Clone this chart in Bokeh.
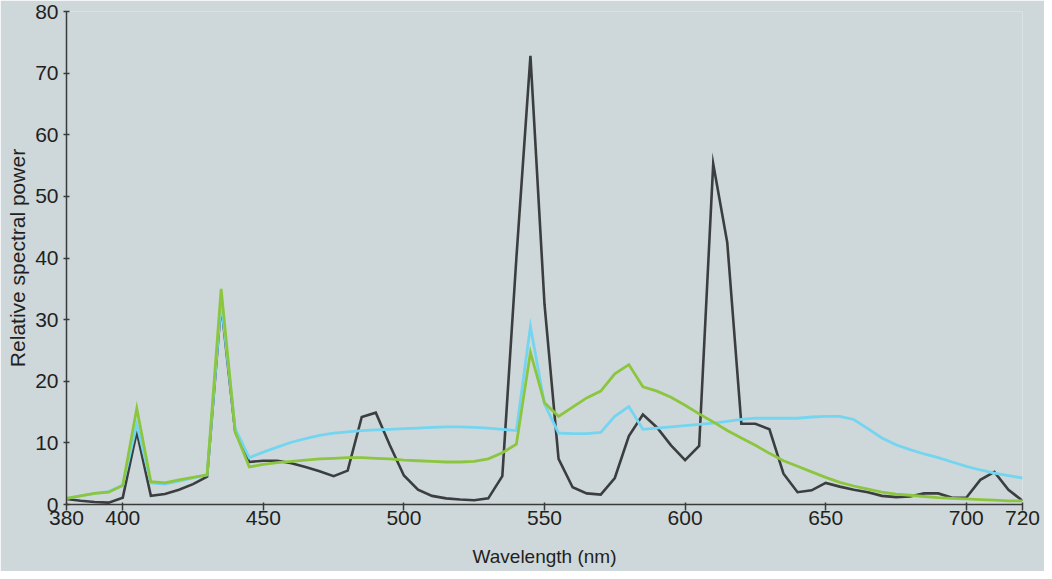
from bokeh.plotting import figure
from bokeh.models import FixedTicker, Range1d
from bokeh.embed import file_html
from bokeh.resources import INLINE

wavelength = [380, 385, 390, 395, 400, 405, 410, 415, 420, 425, 430, 435, 440, 445,
              450, 455, 460, 465, 470, 475, 480, 485, 490, 495, 500, 505, 510, 515,
              520, 525, 530, 535, 540, 545, 550, 555, 560, 565, 570, 575, 580, 585,
              590, 595, 600, 605, 610, 615, 620, 625, 630, 635, 640, 645, 650, 655,
              660, 665, 670, 675, 680, 685, 690, 695, 700, 705, 710, 715, 720]

dark_series = [0.9, 0.6, 0.4, 0.3, 1.1, 11.8, 1.4, 1.7, 2.4, 3.3, 4.5, 32.5, 11.8, 6.9,
               7.1, 7.1, 6.7, 6.1, 5.4, 4.6, 5.5, 14.2, 14.9, 9.6, 4.7, 2.4, 1.4, 1.0,
               0.8, 0.7, 1.0, 4.6, 40.0, 72.8, 32.5, 7.4, 2.8, 1.8, 1.6, 4.3, 11.1, 14.6,
               12.5, 9.6, 7.2, 9.5, 55.3, 42.5, 13.1, 13.1, 12.2, 5.0, 2.0, 2.3, 3.5, 2.9,
               2.4, 2.0, 1.4, 1.2, 1.3, 1.8, 1.8, 1.1, 1.1, 4.0, 5.3, 2.4, 0.6]

blue_series = [1.0, 1.4, 1.8, 2.1, 3.1, 13.0, 3.5, 3.3, 3.8, 4.3, 4.8, 33.0, 12.3, 7.6,
               8.5, 9.3, 10.1, 10.7, 11.2, 11.6, 11.8, 12.0, 12.1, 12.2, 12.3, 12.4, 12.5, 12.6,
               12.6, 12.5, 12.4, 12.2, 12.0, 28.9, 16.3, 11.6, 11.5, 11.5, 11.7, 14.3, 15.9, 12.2,
               12.4, 12.6, 12.8, 13.0, 13.2, 13.5, 13.8, 14.0, 14.0, 14.0, 14.0, 14.2, 14.3, 14.3,
               13.8, 12.3, 10.8, 9.7, 8.9, 8.2, 7.6, 6.9, 6.2, 5.6, 5.1, 4.7, 4.3]

green_series = [1.0, 1.4, 1.8, 2.0, 3.1, 15.6, 3.7, 3.5, 4.0, 4.4, 4.8, 35.0, 11.8, 6.1,
                6.5, 6.8, 7.0, 7.2, 7.4, 7.5, 7.6, 7.6, 7.5, 7.4, 7.2, 7.1, 7.0, 6.9,
                6.9, 7.0, 7.4, 8.4, 9.8, 24.7, 16.5, 14.3, 15.8, 17.3, 18.4, 21.2, 22.7, 19.1,
                18.4, 17.4, 16.1, 14.7, 13.4, 12.0, 10.8, 9.6, 8.3, 7.1, 6.2, 5.3, 4.4, 3.6,
                3.0, 2.5, 2.0, 1.7, 1.5, 1.3, 1.1, 1.0, 0.9, 0.8, 0.7, 0.6, 0.6]

x_ticks = [380, 400, 450, 500, 550, 600, 650, 700, 720]
y_ticks = [0, 10, 20, 30, 40, 50, 60, 70, 80]

BG = "#ced8da"
TEXT = "#231f20"
FONT = "Liberation Sans"

p = figure(width=1044, height=571, output_backend="svg", toolbar_location=None,
           x_range=Range1d(380, 720), y_range=Range1d(0, 80),
           min_border_left=66, min_border_right=22, min_border_top=11, min_border_bottom=67)
p.background_fill_color = BG
p.border_fill_color = BG
p.outline_line_color = None
p.xgrid.visible = False
p.ygrid.visible = False

p.line(wavelength, dark_series, line_color="#3b3e3f", line_width=2.6, line_join="miter")
p.line(wavelength, blue_series, line_color="#74d5f0", line_width=2.8, line_join="miter")
p.line(wavelength, green_series, line_color="#8cc63e", line_width=2.8, line_join="miter")

for ax in (p.xaxis[0], p.yaxis[0]):
    ax.axis_line_color = "#3a3a3a"
    ax.axis_line_width = 1.5
    ax.major_tick_line_color = "#3a3a3a"
    ax.major_tick_line_width = 1.5
    ax.minor_tick_line_color = None
    ax.major_label_text_font = FONT
    ax.major_label_text_font_size = "21px"
    ax.major_label_text_color = TEXT
    ax.axis_label_text_font = FONT
    ax.axis_label_text_font_style = "normal"
    ax.axis_label_text_color = TEXT

p.xaxis.axis_label_text_font_size = "19px"
p.yaxis.axis_label_text_font_size = "21px"
p.xaxis.ticker = FixedTicker(ticks=x_ticks)
p.yaxis.ticker = FixedTicker(ticks=y_ticks)
p.xaxis.axis_label = "Wavelength (nm)"
p.yaxis.axis_label = "Relative spectral power"
p.xaxis.major_tick_in = 2
p.xaxis.major_tick_out = 6
p.xaxis.major_label_standoff = 0
p.xaxis.axis_label_standoff = 18
p.yaxis.major_tick_in = 3
p.yaxis.major_tick_out = 3
p.yaxis.major_label_standoff = 5
p.yaxis.axis_label_standoff = 3

open("out.html", "w").write(file_html(p, INLINE))
